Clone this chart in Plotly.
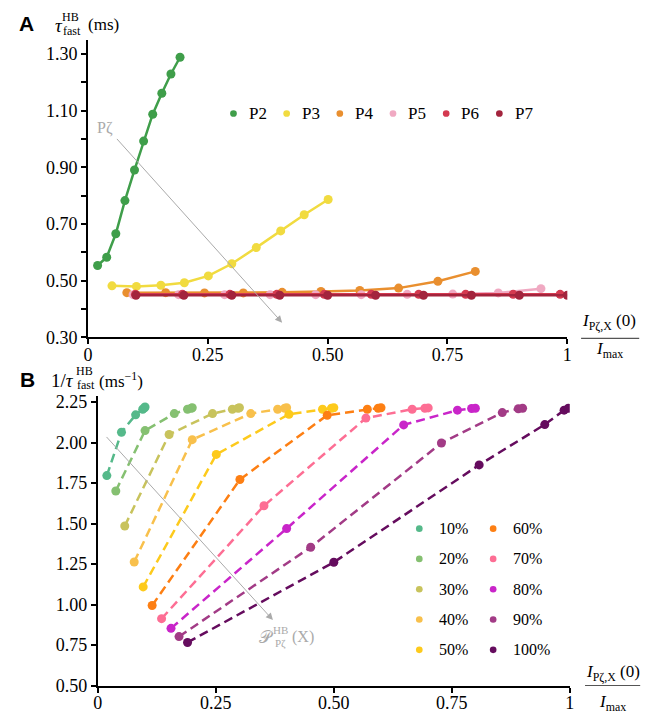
import plotly.graph_objects as go

# ---- panel A : tau_fast vs I(0)/Imax for P2..P7 ----
p_names = ["P2", "P3", "P4", "P5", "P6", "P7"]
p_colors = ["#3f9e4a", "#f1db40", "#e98f2f", "#f0a9c2", "#d43a50", "#a3243d"]

p2_x = [0.020, 0.039, 0.058, 0.077, 0.097, 0.116, 0.135, 0.154, 0.173, 0.192]
p2_y = [0.554, 0.583, 0.666, 0.783, 0.891, 0.993, 1.088, 1.162, 1.230, 1.289]
p3_x = [0.050, 0.101, 0.152, 0.201, 0.251, 0.300, 0.351, 0.402, 0.451, 0.501]
p3_y = [0.482, 0.480, 0.484, 0.493, 0.517, 0.560, 0.617, 0.676, 0.733, 0.787]
p4_x = [0.081, 0.162, 0.243, 0.324, 0.405, 0.486, 0.567, 0.648, 0.730, 0.808]
p4_y = [0.458, 0.458, 0.457, 0.457, 0.459, 0.462, 0.466, 0.474, 0.498, 0.533]
p5_x = [0.094, 0.189, 0.285, 0.380, 0.475, 0.570, 0.666, 0.761, 0.856, 0.945]
p5_y = [0.451, 0.451, 0.451, 0.451, 0.451, 0.451, 0.452, 0.453, 0.457, 0.472]
p6_x = [0.099, 0.197, 0.296, 0.394, 0.493, 0.591, 0.690, 0.788, 0.887, 0.985]
p6_y = [0.452, 0.452, 0.452, 0.452, 0.452, 0.452, 0.452, 0.452, 0.452, 0.452]
p7_x = [0.100, 0.200, 0.300, 0.400, 0.500, 0.600, 0.700, 0.800, 0.900, 1.000]
p7_y = [0.449, 0.449, 0.449, 0.449, 0.449, 0.449, 0.449, 0.449, 0.449, 0.449]
a_xs = [p2_x, p3_x, p4_x, p5_x, p6_x, p7_x]
a_ys = [p2_y, p3_y, p4_y, p5_y, p6_y, p7_y]

# ---- panel B : 1/tau_fast, one series per percentage ----
b_names = ["10%", "20%", "30%", "40%", "50%", "60%", "70%", "80%", "90%", "100%"]
b_colors = ["#55b98a", "#85c071", "#c8c35c", "#f8c04c", "#fdca1c",
            "#fd7f13", "#fd6e94", "#c925c9", "#a23b86", "#650c5e"]
b10_x = [0.019, 0.050, 0.080, 0.095, 0.099, 0.100]
b10_y = [1.796, 2.064, 2.171, 2.206, 2.215, 2.220]
b20_x = [0.038, 0.100, 0.162, 0.190, 0.198, 0.200]
b20_y = [1.701, 2.074, 2.179, 2.206, 2.212, 2.215]
b30_x = [0.057, 0.151, 0.243, 0.285, 0.297, 0.300]
b30_y = [1.485, 2.050, 2.179, 2.206, 2.212, 2.215]
b40_x = [0.077, 0.200, 0.324, 0.381, 0.396, 0.400]
b40_y = [1.263, 2.018, 2.179, 2.206, 2.212, 2.215]
b50_x = [0.096, 0.251, 0.405, 0.476, 0.495, 0.500]
b50_y = [1.109, 1.927, 2.175, 2.206, 2.212, 2.215]
b60_x = [0.115, 0.301, 0.486, 0.571, 0.594, 0.600]
b60_y = [0.994, 1.772, 2.169, 2.206, 2.212, 2.215]
b70_x = [0.135, 0.352, 0.568, 0.666, 0.693, 0.700]
b70_y = [0.913, 1.610, 2.151, 2.206, 2.212, 2.214]
b80_x = [0.155, 0.400, 0.648, 0.762, 0.792, 0.800]
b80_y = [0.853, 1.469, 2.109, 2.200, 2.210, 2.212]
b90_x = [0.172, 0.451, 0.728, 0.857, 0.891, 0.900]
b90_y = [0.802, 1.354, 1.997, 2.185, 2.209, 2.212]
b100_x = [0.190, 0.500, 0.808, 0.947, 0.988, 0.997]
b100_y = [0.766, 1.261, 1.862, 2.111, 2.200, 2.212]
b_xs = [b10_x, b20_x, b30_x, b40_x, b50_x, b60_x, b70_x, b80_x, b90_x, b100_x]
b_ys = [b10_y, b20_y, b30_y, b40_y, b50_y, b60_y, b70_y, b80_y, b90_y, b100_y]

x_ticks = [0, 0.25, 0.5, 0.75, 1]
x_ticktext = ["0", "0.25", "0.50", "0.75", "1"]
a_yticks = [0.3, 0.4, 0.5, 0.6, 0.7, 0.8, 0.9, 1.0, 1.1, 1.2, 1.3]
a_yticktext = ["0.30", " ", "0.50", " ", "0.70", " ", "0.90", " ", "1.10", " ", "1.30"]
b_yticks = [0.5, 0.75, 1.0, 1.25, 1.5, 1.75, 2.0, 2.25]
b_yticktext = ["0.50", "0.75", "1.00", "1.25", "1.50", "1.75", "2.00", "2.25"]

W, H = 657, 722
FONT = "Liberation Serif, Times New Roman, serif"


def px(x):
    return x / W


def py(y):
    return 1 - y / H


fig = go.Figure()

for name, col, xs, ys in zip(p_names, p_colors, a_xs, a_ys):
    fig.add_trace(go.Scatter(x=xs, y=ys, mode="lines+markers", name=name,
                             line=dict(color=col, width=2.5),
                             marker=dict(color=col, size=9),
                             xaxis="x", yaxis="y"))

for name, col, xs, ys in zip(b_names, b_colors, b_xs, b_ys):
    fig.add_trace(go.Scatter(x=xs, y=ys, mode="lines+markers", name=name,
                             line=dict(color=col, width=2.5, dash="9px,5px"),
                             marker=dict(color=col, size=9),
                             xaxis="x2", yaxis="y2"))

axis_style = dict(showline=True, linecolor="black", linewidth=2, ticks="outside",
                  ticklen=5, tickwidth=1.5, tickcolor="black", showgrid=False,
                  zeroline=False, tickfont=dict(family=FONT, size=18, color="black"))

fig.update_layout(
    width=W, height=H,
    margin=dict(l=0, r=0, t=0, b=0),
    plot_bgcolor="white", paper_bgcolor="white",
    showlegend=False,
    font=dict(family=FONT, size=16, color="black"),
    xaxis=dict(domain=[px(84.3), px(571)], range=[0, 1], tickvals=x_ticks,
               ticktext=x_ticktext, anchor="y", ticklabelstandoff=-5, **axis_style),
    yaxis=dict(domain=[py(340), py(36.7)], range=[0.30, 1.35], tickvals=a_yticks,
               ticktext=a_yticktext, anchor="x", **axis_style),
    xaxis2=dict(domain=[px(94.3), px(573.5)], range=[0, 1], tickvals=x_ticks,
                ticktext=x_ticktext, anchor="y2", ticklabelstandoff=-5, **axis_style),
    yaxis2=dict(domain=[py(695), py(400)], range=[0.5, 2.286], tickvals=b_yticks,
                ticktext=b_yticktext, anchor="x2", **axis_style),
)

grey = "#aaaaaa"
# guide arrows
fig.add_annotation(x=0.405, y=0.352, ax=0.0575, ay=1.006, xref="x", yref="y",
                   axref="x", ayref="y", showarrow=True, arrowhead=2, arrowsize=1.4,
                   arrowwidth=1, arrowcolor=grey, text="")
fig.add_annotation(x=0.371, y=0.904, ax=0.0155, ay=2.044, xref="x2", yref="y2",
                   axref="x2", ayref="y2", showarrow=True, arrowhead=2, arrowsize=1.4,
                   arrowwidth=1, arrowcolor=grey, text="")


def label(text, x, y, size=17, color="black", xanchor="center", family=FONT):
    fig.add_annotation(text=text, x=px(x), y=py(y), xref="paper", yref="paper",
                       showarrow=False, xanchor=xanchor, yanchor="middle",
                       font=dict(family=family, size=size, color=color))


def dot(x, y, col, r=3.4):
    fig.add_shape(type="circle", xref="paper", yref="paper",
                  x0=px(x - r), x1=px(x + r), y0=py(y + r), y1=py(y - r),
                  fillcolor=col, line=dict(width=0))


# legends (drawn by hand so the columns sit where the reference has them)
for i, (name, col) in enumerate(zip(p_names, p_colors)):
    dot(232 + 54 * i, 111.7, col)
    label(name, 245.5 + 54 * i, 111.7, size=17, xanchor="left")

for i, (name, col) in enumerate(zip(b_names, b_colors)):
    cx = 420.7 if i < 5 else 495.7
    tx = 439 if i < 5 else 514
    ry = 535 + 30.9 * (i % 5)
    dot(cx, ry, col)
    label(name, tx, ry, size=16, xanchor="left")

label("Pζ", 101.3, 126, size=16, color=grey)
label("𝒫", 265, 646, size=17, color=grey)
label("HB", 280, 638.5, size=11, color=grey)
label("Pζ", 280, 652, size=11, color=grey)
label("(X)", 302.5, 646, size=16, color=grey)

# panel letters and y titles
label("<b>A</b>", 21.5, 20, size=21, family="Liberation Sans, Arial, sans-serif")
label("<i>τ</i>", 55, 22, size=19)
label("HB", 66.5, 13.5, size=12)
label("fast", 68, 27.5, size=12)
label("(ms)", 100.5, 21, size=17)

label("<b>B</b>", 22.5, 383, size=21, family="Liberation Sans, Arial, sans-serif")
label("1/<i>τ</i>", 58.5, 384, size=19)
label("HB", 81, 374, size=12)
label("fast", 82, 388.5, size=12)
label("(ms<sup>−1</sup>)", 118, 383, size=17)

# x titles written as a fraction
for cx, num_y, bar_y, den_y, x0, x1 in [(613.5, 324, 341, 353, 585, 644),
                                        (617, 682, 695, 713, 589, 645)]:
    label("<i>I</i><sub>Pζ,X</sub> (0)", cx, num_y, size=17)
    label("<i>I</i><sub>max</sub>", cx, den_y, size=17)
    fig.add_shape(type="line", x0=px(x0), x1=px(x1), y0=py(bar_y), y1=py(bar_y),
                  xref="paper", yref="paper", line=dict(color="#555555", width=1.2))

# the page's default body margin would push the figure off the window
fig.write_html("out.html", config={"displayModeBar": False},
               post_script="document.body.style.margin='0px';"
                           "document.body.style.overflow='hidden';")
